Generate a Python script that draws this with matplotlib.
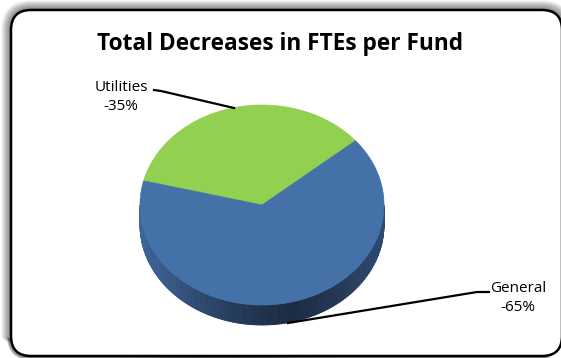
import numpy as np
import matplotlib.pyplot as plt
from matplotlib.patches import Polygon, FancyBboxPatch

title = 'Total Decreases in FTEs per Fund'
funds = ['Utilities', 'General']
shares = [-35, -65]
colors = ['#92d050', '#4472a8']

W, H = 561, 358
fig = plt.figure(figsize=(W / 100, H / 100), dpi=100)
ax = fig.add_axes([0, 0, 1, 1])
ax.set_xlim(0, W)
ax.set_ylim(H, 0)
ax.axis('off')

# frame with soft shadow
x0, y0, fw, fh, rad = 11, 10, 551, 346, 20
for g in range(9, 0, -1):
    ax.add_patch(FancyBboxPatch((x0 - g, y0 - g), fw + 2 * g, fh + 2 * g,
                                boxstyle='round,pad=0,rounding_size=%d' % (rad + g),
                                fc='none', ec='black', lw=1.2, alpha=0.035 * (10 - g)))
ax.add_patch(FancyBboxPatch((x0, y0), fw, fh, boxstyle='round,pad=0,rounding_size=%d' % rad,
                            fc='white', ec='black', lw=1.8))

ax.text(280, 44, title, ha='center', va='center', fontsize=16.3,
        fontweight='bold', family='Open Sans')

# pseudo 3d pie
cx, cy, a, b, depth = 262, 205, 122, 100, 20
vals = np.abs(np.array(shares, dtype=float))
angles = vals / vals.sum() * 360
start = 40.0
bounds = []
t0 = start
for ang in angles:
    bounds.append((t0, t0 + ang))
    t0 += ang


def pt(t, dz=0):
    r = np.radians(t)
    return cx + a * np.cos(r), cy - b * np.sin(r) + dz


# side wall (front half only)
side_dark = np.array([0x1b, 0x2b, 0x43]) / 255
side_light = np.array([0x40, 0x66, 0x9c]) / 255
ts = np.linspace(180, 360, 181)
for t1, t2 in zip(ts[:-1], ts[1:]):
    x1, y1 = pt(t1)
    x2, y2 = pt(t2)
    u = (np.cos(np.radians((t1 + t2) / 2)) + 1) / 2
    k = np.clip(abs(u - 0.62) / 0.62, 0, 1) ** 1.3
    c = side_dark + (side_light - side_dark) * k
    ax.add_patch(Polygon([(x1, y1), (x2, y2), (x2, y2 + depth), (x1, y1 + depth)],
                         closed=True, fc=c, ec=c, lw=0.6))

# top face
for (s, e), col in zip(bounds, colors):
    tt = np.linspace(s, e, 200)
    verts = [(cx, cy)] + [pt(t) for t in tt]
    ax.add_patch(Polygon(verts, closed=True, fc=col, ec=col, lw=0.5))

# labels with leader lines
ax.text(121, 97, '%s\n%d%%' % (funds[0], shares[0]), ha='center', va='center',
        fontsize=11, family='Open Sans', linespacing=1.35)
ax.plot([154, 161, 234], [90, 91, 108], color='black', lw=1.6)
ax.text(518, 298, '%s\n%d%%' % (funds[1], shares[1]), ha='center', va='center',
        fontsize=11, family='Open Sans', linespacing=1.35)
ax.plot([288, 477, 489], [323, 292, 292], color='black', lw=1.6)

fig.savefig('out.png', dpi=100)
